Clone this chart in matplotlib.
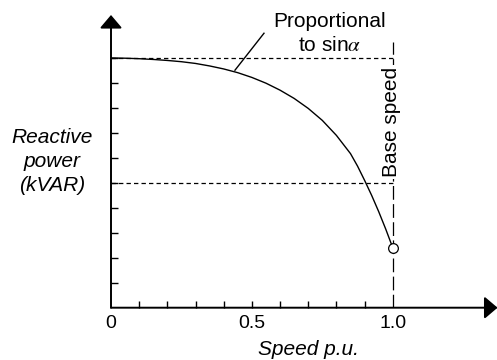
import matplotlib.pyplot as plt
import matplotlib
import numpy as np

matplotlib.rcParams['font.family'] = ['Liberation Sans', 'DejaVu Sans']
matplotlib.rcParams['mathtext.fontset'] = 'stix'

# curve (speed p.u. vs reactive power, top = 1)
speed = [0, 0.05, 0.1, 0.15, 0.2, 0.25, 0.3, 0.35, 0.4, 0.45, 0.5, 0.55, 0.6, 0.65,
         0.7, 0.75, 0.8, 0.85, 0.875, 0.9, 0.925, 0.95, 0.975, 1.0]
kvar = [1.0, 0.999, 0.997, 0.994, 0.990, 0.985, 0.978, 0.968, 0.956, 0.941, 0.922, 0.899,
        0.871, 0.838, 0.798, 0.750, 0.690, 0.617, 0.567, 0.510, 0.450, 0.385, 0.315, 0.240]

x_ticks = [0.1, 0.2, 0.3, 0.4, 0.5, 0.6, 0.7, 0.8, 0.9]
x_labels = ['0', '0.5', '1.0']
x_label_pos = [0, 0.5, 1.0]
y_ticks = [0.1, 0.2, 0.3, 0.4, 0.5, 0.6, 0.7, 0.8, 0.9, 1.0]
base_speed = 1.0
half_level = 0.5
end_kvar = 0.24

W, H = 497, 360
fig = plt.figure(figsize=(W / 100, H / 100), dpi=100)
# axes placed in pixels so the origin sits where the reference has it
ax = fig.add_axes([111 / W, 52.3 / H, 386 / W, 292.7 / H])
ax.set_xlim(0, 1.370)
ax.set_ylim(0, 1.172)
for s in ax.spines.values():
    s.set_visible(False)

# axes with arrow heads
arrow = dict(arrowstyle='-|>,head_length=0.8,head_width=0.68', color='black',
             lw=1.4, mutation_scale=10, shrinkA=0, shrinkB=0)
ax.annotate('', xy=(1.372, 0), xytext=(0, 0), arrowprops=arrow, annotation_clip=False)
ax.annotate('', xy=(0, 1.172), xytext=(0, 0), arrowprops=arrow, annotation_clip=False)

# ticks
ax.set_xticks(x_ticks, minor=True)
ax.set_xticks(x_label_pos)
ax.set_xticklabels(x_labels, fontsize=14)
ax.xaxis.remove_overlapping_locs = False
ax.tick_params(axis='x', which='major', length=0, pad=5)
ax.tick_params(axis='x', which='minor', direction='in', length=5, width=1)
ax.set_yticks(y_ticks)
ax.set_yticklabels([])
ax.tick_params(axis='y', direction='in', length=5, width=1)

# reference lines
ax.plot([0, base_speed], [1.0, 1.0], color='black', lw=0.9, ls=(0, (3.5, 2.5)))
ax.plot([0, base_speed], [half_level, half_level], color='black', lw=0.9, ls=(0, (3.5, 2.5)))
ax.plot([base_speed, base_speed], [0, 1.064], color='black', lw=0.9, ls=(0, (11, 3.5)))

# the curve
ax.plot(speed, kvar, color='black', lw=1.0)
ax.plot([base_speed], [end_kvar], marker='o', ms=7, mfc='white', mec='black', mew=0.9,
        clip_on=False, zorder=5)

# annotation
ax.plot([0.440, 0.543], [0.951, 1.099], color='black', lw=1.0)
ax.text(0.777, 1.125, 'Proportional', ha='center', va='baseline', fontsize=15)
ax.text(0.777, 1.029, 'to sin$\\alpha$', ha='center', va='baseline', fontsize=15)
ax.text(0.996, 0.744, 'Base speed', rotation=90, ha='center', va='center', fontsize=15,
        bbox=dict(facecolor='white', edgecolor='none', pad=1.5), zorder=6)

# axis labels
ax.text(-0.2077, 0.661, 'Reactive', ha='center', va='baseline', fontsize=15, style='italic')
ax.text(-0.2077, 0.565, 'power', ha='center', va='baseline', fontsize=15, style='italic')
ax.text(-0.2077, 0.469, '(kVAR)', ha='center', va='baseline', fontsize=15, style='italic')
ax.text(0.699, -0.189, 'Speed p.u.', ha='center', va='baseline', fontsize=15, style='italic')

fig.savefig('out.png', dpi=100)
